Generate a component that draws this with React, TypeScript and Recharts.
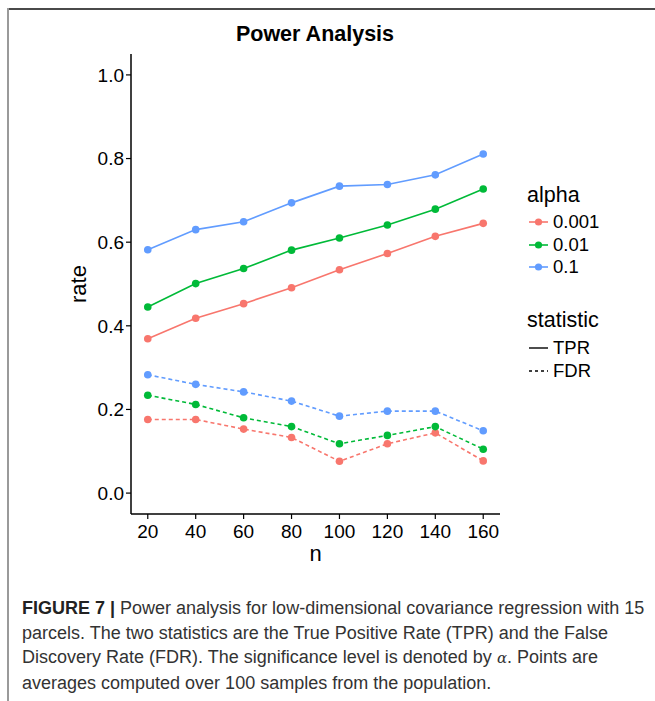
import { LineChart, Line, XAxis, YAxis, Label } from "recharts";

const nValues = [20, 40, 60, 80, 100, 120, 140, 160];

// TPR by alpha
const tpr001 = [0.369, 0.418, 0.453, 0.491, 0.534, 0.573, 0.614, 0.645];
const tpr01 = [0.445, 0.501, 0.537, 0.581, 0.61, 0.641, 0.679, 0.727];
const tpr1 = [0.582, 0.63, 0.649, 0.694, 0.734, 0.738, 0.761, 0.811];

// FDR by alpha
const fdr001 = [0.176, 0.176, 0.153, 0.133, 0.076, 0.118, 0.144, 0.077];
const fdr01 = [0.234, 0.212, 0.18, 0.159, 0.118, 0.138, 0.159, 0.105];
const fdr1 = [0.283, 0.26, 0.242, 0.22, 0.184, 0.196, 0.196, 0.149];

const yTicks = [0, 0.2, 0.4, 0.6, 0.8, 1.0];
const alphaLabels = ["0.001", "0.01", "0.1"];
const statLabels = ["TPR", "FDR"];

const COLORS = ["#F8766D", "#00BA38", "#619CFF"];
const FONT = "'Liberation Sans', Arial, sans-serif";

const data = nValues.map((n, i) => ({
  n,
  tpr001: tpr001[i],
  tpr01: tpr01[i],
  tpr1: tpr1[i],
  fdr001: fdr001[i],
  fdr01: fdr01[i],
  fdr1: fdr1[i],
}));

const series = [
  { key: "tpr001", color: COLORS[0], dashed: false },
  { key: "tpr01", color: COLORS[1], dashed: false },
  { key: "tpr1", color: COLORS[2], dashed: false },
  { key: "fdr001", color: COLORS[0], dashed: true },
  { key: "fdr01", color: COLORS[1], dashed: true },
  { key: "fdr1", color: COLORS[2], dashed: true },
];

const tickStyle = { fontSize: 19, fill: "#000", fontFamily: FONT };

export default function App() {
  return (
    <div style={{ position: "absolute", left: 0, top: 0, width: 655, height: 701, background: "#fff", overflow: "hidden", fontFamily: FONT }}>
      {/* frame */}
      <div style={{ position: "absolute", left: 8, top: 8, width: 647, height: 2, background: "#4a4a4a" }} />
      <div style={{ position: "absolute", left: 7, top: 8, width: 1.5, height: 693, background: "#9a9a9a" }} />

      <div style={{ position: "absolute", left: 0, top: 22, width: 630, textAlign: "center", fontSize: 21.5, fontWeight: "bold", color: "#000" }}>
        Power Analysis
      </div>

      <div style={{ position: "absolute", left: 0, top: 0 }}>
        <LineChart width={655} height={580} data={data} margin={{ top: 54, right: 155, bottom: 26, left: 60 }}>
          <XAxis
            dataKey="n"
            type="number"
            domain={[13, 167]}
            ticks={nValues}
            allowDataOverflow
            height={40}
            axisLine={{ stroke: "#000", strokeWidth: 1.5 }}
            tickLine={{ stroke: "#000", strokeWidth: 1.2 }}
            tickSize={5}
            tickMargin={6}
            tick={tickStyle}
          >
            <Label value="n" position="insideBottom" offset={-7} style={{ fontSize: 22, fill: "#000", fontFamily: FONT }} />
          </XAxis>
          <YAxis
            type="number"
            domain={[-0.05, 1.05]}
            ticks={yTicks}
            allowDataOverflow
            width={71}
            axisLine={{ stroke: "#000", strokeWidth: 1.5 }}
            tickLine={{ stroke: "#000", strokeWidth: 1.2 }}
            tickSize={5}
            tick={tickStyle}
            tickFormatter={(v: number) => v.toFixed(1)}
          >
            <Label value="rate" angle={-90} position="insideLeft" offset={18} style={{ fontSize: 22, fill: "#000", fontFamily: FONT, textAnchor: "middle" }} />
          </YAxis>
          {series.map((s) => (
            <Line
              key={s.key}
              dataKey={s.key}
              type="linear"
              stroke={s.color}
              strokeWidth={1.6}
              strokeDasharray={s.dashed ? "4 3" : undefined}
              dot={{ r: 3.8, fill: s.color, stroke: "none" }}
              isAnimationActive={false}
            />
          ))}
        </LineChart>
      </div>

      {/* legend */}
      <div style={{ position: "absolute", left: 527, top: 183, fontSize: 21.5, color: "#000" }}>alpha</div>
      {alphaLabels.map((a, i) => (
        <div key={a} style={{ position: "absolute", left: 528, top: 212 + i * 22.5, height: 20, display: "flex", alignItems: "center" }}>
          <svg width={22} height={20}>
            <line x1={1} y1={10} x2={20} y2={10} stroke={COLORS[i]} strokeWidth={1.6} />
            <circle cx={10.5} cy={10} r={3.6} fill={COLORS[i]} />
          </svg>
          <span style={{ fontSize: 18.5, marginLeft: 3, color: "#000" }}>{a}</span>
        </div>
      ))}
      <div style={{ position: "absolute", left: 527, top: 308, fontSize: 21.5, color: "#000" }}>statistic</div>
      {statLabels.map((s, i) => (
        <div key={s} style={{ position: "absolute", left: 528, top: 338 + i * 23, height: 20, display: "flex", alignItems: "center" }}>
          <svg width={22} height={20}>
            <line x1={1} y1={10} x2={20} y2={10} stroke="#000" strokeWidth={1.4} strokeDasharray={i === 1 ? "3 3" : undefined} />
          </svg>
          <span style={{ fontSize: 18.5, marginLeft: 3, color: "#000" }}>{s}</span>
        </div>
      ))}

      {/* caption */}
      <div style={{ position: "absolute", left: 22, top: 596, width: 640, fontSize: 18, lineHeight: "24.6px", color: "#333", whiteSpace: "nowrap" }}>
        <div><b style={{ color: "#222" }}>FIGURE 7 |</b> Power analysis for low-dimensional covariance regression with 15</div>
        <div>parcels. The two statistics are the True Positive Rate (TPR) and the False</div>
        <div>Discovery Rate (FDR). The significance level is denoted by <i style={{ fontFamily: "'DejaVu Serif', serif", fontSize: 15 }}>α</i>. Points are</div>
        <div>averages computed over 100 samples from the population.</div>
      </div>
    </div>
  );
}
